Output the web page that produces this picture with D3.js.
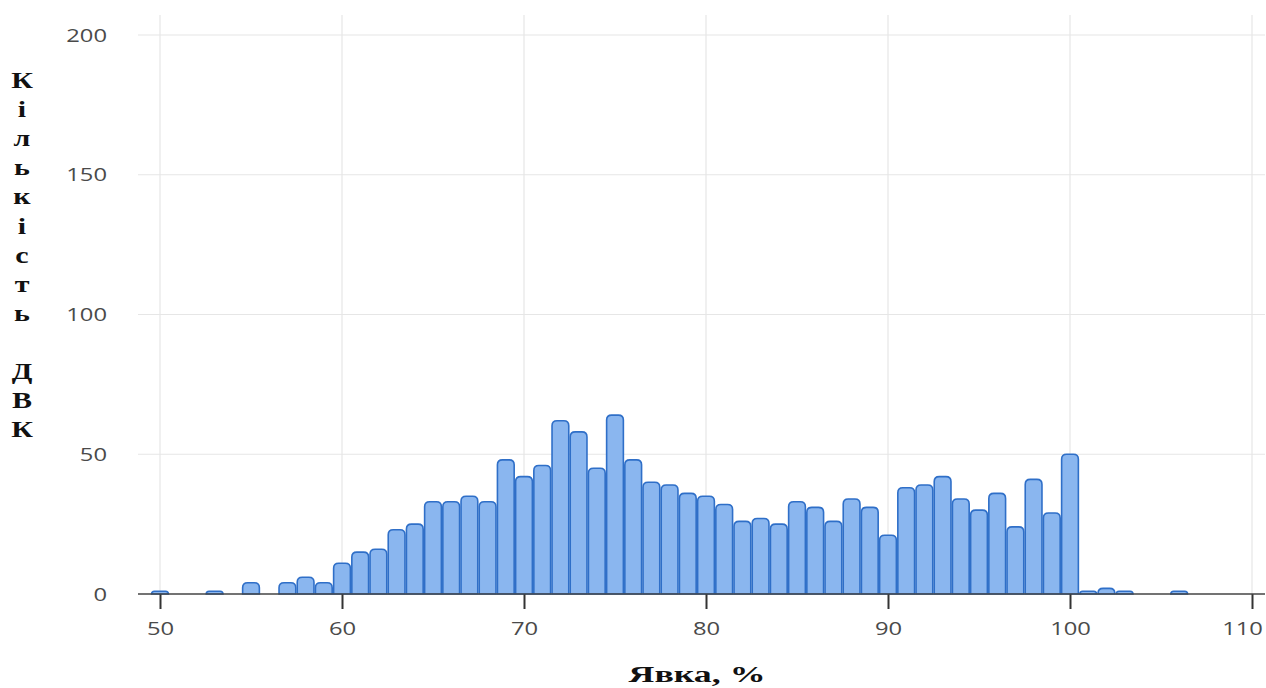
<!DOCTYPE html>
<html>
<head>
<meta charset="utf-8">
<script src="https://cdn.jsdelivr.net/npm/d3@7"></script>
<style>
  html, body { margin: 0; padding: 0; background: #fff; }
  svg { display: block; }
</style>
</head>
<body>
<div id="chart"></div>
<script>
// turnout bins (%) and number of polling stations in each
var turnoutBins = [50, 53, 55, 57, 58, 59, 60, 61, 62, 63, 64, 65, 66, 67, 68, 69,
	70, 71, 72, 73, 74, 75, 76, 77, 78, 79, 80, 81, 82, 83, 84, 85, 86, 87, 88, 89,
	90, 91, 92, 93, 94, 95, 96, 97, 98, 99, 100, 101, 102, 103, 106];
var stationCounts = [1, 1, 4, 4, 6, 4, 11, 15, 16, 23, 25, 33, 33, 35, 33, 48,
	42, 46, 62, 58, 45, 64, 48, 40, 39, 36, 35, 32, 26, 27, 25, 33, 31, 26, 34, 31,
	21, 38, 39, 42, 34, 30, 36, 24, 41, 29, 50, 1, 2, 1, 1];
var xTicks = [50, 60, 70, 80, 90, 100, 110];
var yTicks = [0, 50, 100, 150, 200];
var yTitle = "Кількість ДВК";
var xTitle = "Явка, %";

(function() {
	var width = 1266;
	var height = 688;
	var left = 138, right = 1265, top = 15, bottom = 594;

	var svg = d3.select("#chart")
		.append("svg")
		.attr("width", width)
		.attr("height", height);

	var x = d3.scaleLinear().domain([50, 110]).range([160, 1252]);
	var y = d3.scaleLinear().domain([0, 200]).range([bottom, 35]);

	var data = turnoutBins.map(function(b, i) {
		return { bin: b, count: stationCounts[i] };
	});

	// grid
	var grid = svg.append("g");
	grid.selectAll("line.v")
		.data(xTicks)
		.enter()
		.append("line")
		.attr("x1", function(d) { return x(d); })
		.attr("x2", function(d) { return x(d); })
		.attr("y1", top)
		.attr("y2", bottom)
		.attr("stroke", "#e6e6e6")
		.attr("stroke-width", 1.2);
	grid.selectAll("line.h")
		.data(yTicks.filter(function(d) { return d > 0; }))
		.enter()
		.append("line")
		.attr("x1", left)
		.attr("x2", right)
		.attr("y1", function(d) { return y(d); })
		.attr("y2", function(d) { return y(d); })
		.attr("stroke", "#e6e6e6")
		.attr("stroke-width", 1.2);

	// bars with rounded tops
	var bw = (x(1) - x(0)) * 0.92;
	function barPath(d) {
		var x0 = x(d.bin) - bw / 2, x1 = x(d.bin) + bw / 2;
		var y0 = bottom, y1 = y(d.count);
		var r = Math.min(5, (y0 - y1), bw / 2);
		return "M" + x0 + "," + y0 +
			"V" + (y1 + r) +
			"Q" + x0 + "," + y1 + " " + (x0 + r) + "," + y1 +
			"H" + (x1 - r) +
			"Q" + x1 + "," + y1 + " " + x1 + "," + (y1 + r) +
			"V" + y0 + "Z";
	}
	svg.append("g")
		.selectAll("path")
		.data(data)
		.enter()
		.append("path")
		.attr("d", barPath)
		.attr("fill", "#8ab6ef")
		.attr("stroke", "#2f6fc8")
		.attr("stroke-width", 1.6);

	// x axis
	var xAxis = svg.append("g")
		.attr("transform", "translate(0," + bottom + ")")
		.call(d3.axisBottom(x).tickValues(xTicks).tickSize(15).tickSizeOuter(0));
	xAxis.select(".domain").remove();
	xAxis.append("line")
		.attr("x1", left).attr("x2", right)
		.attr("stroke", "#444").attr("stroke-width", 1.5);
	xAxis.selectAll(".tick line").attr("stroke", "#333").attr("stroke-width", 2);
	xAxis.selectAll(".tick text")
		.attr("y", 41).attr("dy", 0)
		.attr("transform", "scale(1.25,1)")
		.attr("fill", "#4a4a4a")
		.style("font-family", "'Open Sans', sans-serif")
		.style("font-size", "19px");
	// keep the last label inside the picture, as the reference does
	xAxis.selectAll(".tick text")
		.filter(function(d) { return d === 110; })
		.attr("x", -10 / 1.25);

	// y axis labels
	var yAxis = svg.append("g")
		.attr("transform", "translate(" + left + ",0)")
		.call(d3.axisLeft(y).tickValues(yTicks).tickSize(0));
	yAxis.select(".domain").remove();
	yAxis.selectAll(".tick text")
		.attr("x", -31 / 1.25)
		.attr("transform", "scale(1.25,1)")
		.attr("fill", "#4a4a4a")
		.style("font-family", "'Open Sans', sans-serif")
		.style("font-size", "19px");

	// stacked y title
	svg.append("g")
		.selectAll("text")
		.data(yTitle.split(""))
		.enter()
		.append("text")
		.attr("transform", function(d, i) {
			return "translate(22," + (88 + i * 29.1) + ") scale(1.25,1)";
		})
		.attr("text-anchor", "middle")
		.style("font-family", "'Liberation Serif', serif")
		.style("font-weight", "bold")
		.style("font-size", "24px")
		.attr("fill", "#111")
		.text(function(d) { return d; });

	// x title
	svg.append("text")
		.attr("x", 697)
		.attr("y", 682)
		.attr("text-anchor", "middle")
		.attr("textLength", 137)
		.attr("lengthAdjust", "spacingAndGlyphs")
		.style("font-family", "'Liberation Serif', serif")
		.style("font-weight", "bold")
		.style("font-size", "23px")
		.attr("fill", "#111")
		.text(xTitle);
})();
</script>
</body>
</html>
